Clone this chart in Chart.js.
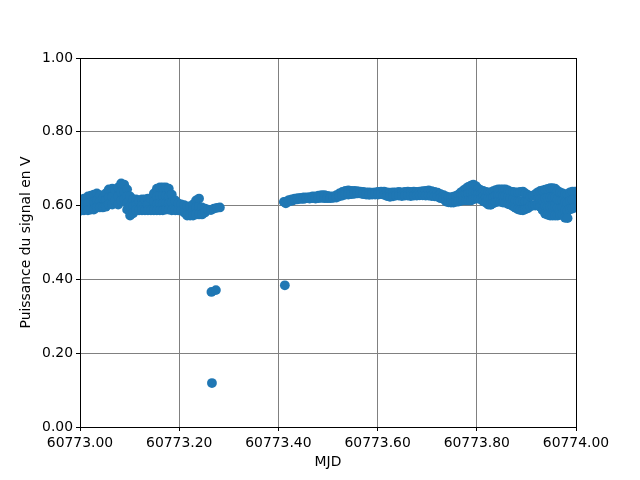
<!DOCTYPE html>
<html>
<head>
<meta charset="utf-8">
<script src="https://cdn.jsdelivr.net/npm/chart.js@4/dist/chart.umd.min.js"></script>
<style>
  html, body { margin: 0; padding: 0; background: #fff; }
  #wrap { width: 640px; height: 480px; }
</style>
</head>
<body>
<div id="wrap"><canvas id="chart" width="640" height="480"></canvas></div>
<script>
// MJD origin, times below are days after it
const mjd0 = 60773;

// first session: time (days) and the readings taken around it (V)
const timesA = [0.000, 0.002, 0.008, 0.016, 0.022, 0.028, 0.034, 0.040, 0.046, 0.052, 0.058, 0.065,
  0.071, 0.077, 0.083, 0.089, 0.095, 0.101, 0.107, 0.113, 0.119, 0.125, 0.131, 0.137, 0.143, 0.149,
  0.155, 0.161, 0.167, 0.173, 0.179, 0.185, 0.192, 0.198, 0.204, 0.210, 0.216, 0.222, 0.228, 0.234,
  0.240, 0.246, 0.252, 0.258, 0.264, 0.270, 0.276, 0.282];
const powerA = [
  [0.612, 0.598, 0.586], [0.614, 0.600, 0.587], [0.619, 0.603, 0.587], [0.625, 0.606, 0.587],
  [0.627, 0.608, 0.589], [0.630, 0.610, 0.589], [0.633, 0.614, 0.595], [0.628, 0.611, 0.595],
  [0.619, 0.595], [0.633, 0.615, 0.597], [0.644, 0.623, 0.603], [0.646, 0.624, 0.603],
  [0.643, 0.614], [0.649, 0.626, 0.603], [0.660, 0.637, 0.614], [0.657, 0.637, 0.617],
  [0.644, 0.625, 0.607, 0.589], [0.625, 0.599, 0.573], [0.617, 0.598, 0.579], [0.617, 0.602, 0.587],
  [0.614, 0.587], [0.617, 0.602, 0.587], [0.617, 0.587], [0.619, 0.603, 0.587],
  [0.619, 0.587], [0.633, 0.610, 0.587], [0.646, 0.624, 0.603, 0.587], [0.649, 0.626, 0.605, 0.587],
  [0.649, 0.626, 0.605, 0.587], [0.649, 0.626, 0.606, 0.589], [0.646, 0.624, 0.605, 0.589], [0.630, 0.608, 0.587],
  [0.614, 0.587], [0.606, 0.587], [0.603, 0.587], [0.601, 0.581],
  [0.598, 0.573], [0.598, 0.573], [0.603, 0.588, 0.573], [0.614, 0.595, 0.576],
  [0.619, 0.597, 0.576], [0.595, 0.576], [0.592, 0.581], [0.589],
  [0.588], [0.592], [0.594], [0.595]
];

// second session
const timesB = [0.411, 0.415, 0.421, 0.427, 0.433, 0.439, 0.445, 0.451, 0.457, 0.463, 0.469, 0.475,
  0.481, 0.487, 0.493, 0.499, 0.505, 0.511, 0.517, 0.523, 0.529, 0.535, 0.541, 0.547, 0.553, 0.559,
  0.565, 0.571, 0.577, 0.583, 0.589, 0.595, 0.601, 0.607, 0.613, 0.619, 0.625, 0.631, 0.637, 0.643,
  0.649, 0.655, 0.661, 0.667, 0.673, 0.679, 0.685, 0.691, 0.697, 0.703, 0.709, 0.715, 0.721, 0.727,
  0.733, 0.738, 0.743, 0.748, 0.753, 0.758, 0.763, 0.768, 0.773, 0.778, 0.783, 0.788, 0.793, 0.798,
  0.803, 0.808, 0.813, 0.818, 0.823, 0.828, 0.833, 0.838, 0.843, 0.848, 0.853, 0.858, 0.863, 0.868,
  0.873, 0.878, 0.883, 0.888, 0.893, 0.898, 0.903, 0.908, 0.913, 0.918, 0.923, 0.928, 0.933, 0.938,
  0.943, 0.948, 0.953, 0.958, 0.963, 0.968, 0.973, 0.978, 0.983, 0.988, 0.993, 0.998, 1.003];
const powerB = [
  [0.610], [0.610, 0.606], [0.615, 0.611], [0.617, 0.613], [0.619, 0.616], [0.620, 0.617],
  [0.621, 0.618], [0.622, 0.618], [0.622, 0.620], [0.623, 0.619], [0.625, 0.620], [0.625, 0.619],
  [0.627, 0.620], [0.628, 0.621], [0.628, 0.620], [0.626, 0.620], [0.625, 0.620], [0.625, 0.621],
  [0.628, 0.622], [0.633, 0.625], [0.637, 0.627], [0.640, 0.630], [0.641, 0.630], [0.640, 0.631],
  [0.640, 0.632], [0.639, 0.633], [0.638, 0.633], [0.637, 0.631], [0.636, 0.630], [0.636, 0.629],
  [0.635, 0.630], [0.636, 0.630], [0.637, 0.630], [0.638, 0.631], [0.638, 0.629], [0.636, 0.626],
  [0.635, 0.624], [0.636, 0.625], [0.636, 0.627], [0.637, 0.627], [0.636, 0.626], [0.637, 0.627],
  [0.638, 0.627], [0.637, 0.626], [0.638, 0.627], [0.637, 0.627], [0.638, 0.628], [0.639, 0.628],
  [0.640, 0.627], [0.641, 0.627], [0.639, 0.626], [0.637, 0.625], [0.635, 0.624], [0.631, 0.620],
  [0.628, 0.618], [0.625, 0.611], [0.623, 0.609], [0.622, 0.608], [0.624, 0.608], [0.626, 0.610],
  [0.630, 0.611], [0.636, 0.624, 0.613], [0.641, 0.627, 0.614], [0.646, 0.630, 0.614], [0.651, 0.632, 0.614], [0.654, 0.634, 0.614],
  [0.657, 0.637, 0.617], [0.653, 0.635, 0.619], [0.646, 0.632, 0.619], [0.642, 0.630, 0.617], [0.640, 0.625, 0.612], [0.637, 0.622, 0.608],
  [0.636, 0.619, 0.603], [0.636, 0.618, 0.602], [0.639, 0.622, 0.606], [0.642, 0.626, 0.609], [0.644, 0.627, 0.611], [0.644, 0.627, 0.610],
  [0.644, 0.626, 0.608], [0.644, 0.626, 0.608], [0.641, 0.622, 0.604], [0.638, 0.620, 0.602], [0.637, 0.616, 0.598], [0.636, 0.614, 0.594],
  [0.636, 0.612, 0.590], [0.637, 0.612, 0.588], [0.638, 0.612, 0.587], [0.633, 0.611, 0.590], [0.629, 0.610, 0.593], [0.625, 0.598],
  [0.627, 0.600], [0.631, 0.600], [0.636, 0.618, 0.602], [0.640, 0.617, 0.597], [0.641, 0.614, 0.587], [0.643, 0.620, 0.598, 0.578],
  [0.645, 0.621, 0.597, 0.575], [0.647, 0.622, 0.597, 0.573], [0.647, 0.622, 0.597, 0.573], [0.646, 0.622, 0.597, 0.573],
  [0.640, 0.617, 0.595, 0.573], [0.636, 0.614, 0.592, 0.575], [0.633, 0.613, 0.594, 0.576], [0.631, 0.609, 0.587, 0.567],
  [0.630, 0.608, 0.586, 0.566], [0.636, 0.613, 0.590], [0.638, 0.615, 0.592], [0.638, 0.616, 0.595], [0.637, 0.615, 0.596]
];

// isolated drops
const outlierTimes = [0.265, 0.274, 0.266, 0.413];
const outlierPower = [0.366, 0.371, 0.119, 0.384];

const xTicks = [60773.0, 60773.2, 60773.4, 60773.6, 60773.8, 60774.0];

function toPoints(times, readings) {
  const pts = [];
  times.forEach((t, i) => {
    readings[i].forEach(v => pts.push({ x: mjd0 + t, y: v }));
  });
  return pts;
}

const points = toPoints(timesA, powerA)
  .concat(toPoints(timesB, powerB))
  .concat(outlierTimes.map((t, i) => ({ x: mjd0 + t, y: outlierPower[i] })));

const FONT = { family: 'DejaVu Sans', size: 13.9 };

// black frame on all four sides, above the markers
const frame = {
  id: 'frame',
  afterDatasetsDraw(chart) {
    const { ctx, chartArea: a } = chart;
    ctx.save();
    ctx.strokeStyle = '#000';
    ctx.lineWidth = 1;
    ctx.strokeRect(Math.round(a.left) + 0.5, Math.round(a.top) + 0.5,
      Math.round(a.right - a.left), Math.round(a.bottom - a.top));
    ctx.restore();
  }
};

new Chart(document.getElementById('chart'), {
  type: 'scatter',
  data: {
    datasets: [{
      data: points,
      backgroundColor: '#1f77b4',
      borderWidth: 0,
      pointRadius: 4.9,
      pointHoverRadius: 4.9,
      clip: 0,
    }],
  },
  options: {
    responsive: false,
    animation: false,
    events: [],
    layout: { padding: { top: 58, right: 64, left: 0, bottom: 0 } },
    plugins: { legend: { display: false }, tooltip: { enabled: false } },
    scales: {
      x: {
        type: 'linear',
        min: 60773,
        max: 60774,
        afterFit: s => { s.height = 53; },
        afterBuildTicks: s => { s.ticks = xTicks.map(v => ({ value: v })); },
        ticks: {
          color: '#000', font: FONT, padding: 4, maxRotation: 0, autoSkip: false,
          callback: v => Number(v).toFixed(2),
        },
        grid: { color: '#808080', lineWidth: 1, tickColor: '#000', tickLength: 4 },
        border: { color: '#000', width: 1 },
        title: { display: true, text: 'MJD', color: '#000', font: FONT, padding: { top: 0, bottom: 9 } },
      },
      y: {
        min: 0,
        max: 1,
        afterFit: s => { s.width = 80; },
        ticks: {
          color: '#000', font: FONT, padding: 3, stepSize: 0.2,
          callback: v => Number(v).toFixed(2),
        },
        grid: { color: '#808080', lineWidth: 1, tickColor: '#000', tickLength: 4 },
        border: { color: '#000', width: 1 },
        title: { display: true, text: 'Puissance du signal en V', color: '#000', font: FONT, padding: { top: 18, bottom: 0 } },
      },
    },
  },
  plugins: [frame],
});
</script>
</body>
</html>
